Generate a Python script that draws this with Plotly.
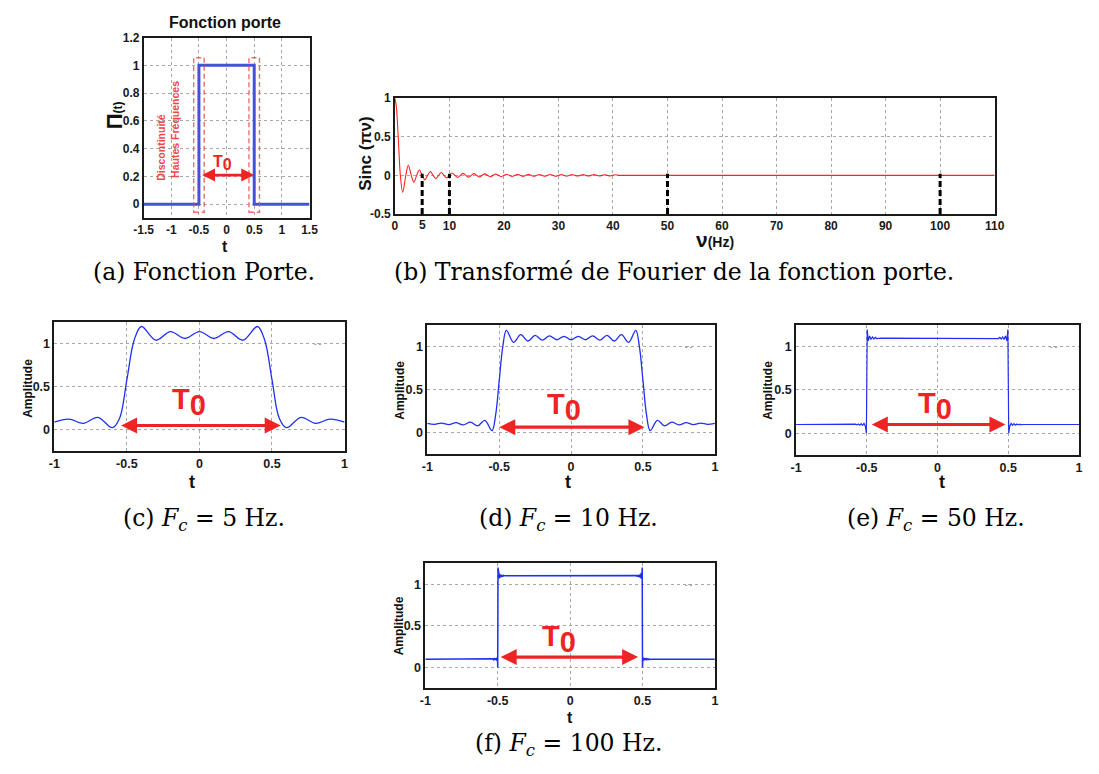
import plotly.graph_objects as go

# ---------------- data ----------------
# (a) gate function
porte_t = [-1.5, -0.5, -0.5, 0.5, 0.5, 1.5]
porte_v = [0, 0, 1, 1, 0, 0]
discontinuities = [-0.5, 0.5]

# (b) sinc(pi nu): zeros and extrema
sinc_nu = [0, 0.25, 0.5, 0.75, 1, 1.43, 2, 2.46, 3, 3.47, 4, 4.49, 5, 5.5, 6, 6.5,
           7, 7.5, 8, 8.5, 9, 9.5, 10, 10.5, 11, 11.5, 12, 12.5, 13, 13.5, 14, 14.5,
           15, 15.5, 16, 16.5, 17, 17.5, 18, 18.5, 19, 19.5, 20, 20.5, 21, 21.5,
           22, 22.5, 23, 23.5, 24, 24.5, 25, 25.5, 26, 26.5, 27, 27.5, 28, 28.5,
           29, 29.5, 30, 30.5, 31, 31.5, 32, 32.5, 33, 33.5, 34, 34.5, 35, 35.5,
           36, 36.5, 37, 37.5, 38, 38.5, 39, 39.5, 40, 40.5, 41, 42, 110]
sinc_val = [1, 0.9, 0.64, 0.3, 0, -0.22, 0, 0.13, 0, -0.09, 0, 0.07, 0, -0.058, 0, 0.049,
            0, -0.042, 0, 0.037, 0, -0.033, 0, 0.03, 0, -0.028, 0, 0.025, 0, -0.023, 0, 0.022,
            0, -0.02, 0, 0.019, 0, -0.018, 0, 0.017, 0, -0.016, 0, 0.015, 0, -0.015,
            0, 0.014, 0, -0.013, 0, 0.013, 0, -0.012, 0, 0.012, 0, -0.011, 0, 0.011,
            0, -0.011, 0, 0.01, 0, -0.01, 0, 0.01, 0, -0.009, 0, 0.009, 0, -0.009,
            0, 0.009, 0, -0.008, 0, 0.008, 0, -0.008, 0, 0.008, 0, 0, 0]
cut_freqs = [5, 10, 50, 100]

# (c) Fc = 5 Hz
t_c = [-1.0, -0.9, -0.8, -0.7, -0.6, -0.55, -0.5, -0.45, -0.4, -0.3, -0.2, -0.1, 0.0,
       0.1, 0.2, 0.3, 0.4, 0.45, 0.5, 0.55, 0.6, 0.7, 0.8, 0.9, 1.0]
a_c = [0.085, 0.12, 0.07, 0.14, 0.02, 0.13, 0.58, 1.04, 1.2, 1.04, 1.14, 1.06, 1.14,
       1.06, 1.14, 1.04, 1.2, 1.04, 0.58, 0.13, 0.02, 0.14, 0.07, 0.12, 0.085]

# (d) Fc = 10 Hz
t_d = [-1.0, -0.95, -0.9, -0.85, -0.8, -0.75, -0.7, -0.65, -0.6, -0.55, -0.525, -0.5,
       -0.475, -0.45, -0.4, -0.35, -0.3, -0.25, -0.2, -0.15, -0.1, -0.05, 0.0,
       0.05, 0.1, 0.15, 0.2, 0.25, 0.3, 0.35, 0.4, 0.45, 0.475, 0.5, 0.525, 0.55,
       0.6, 0.65, 0.7, 0.75, 0.8, 0.85, 0.9, 0.95, 1.0]
a_d = [0.105, 0.093, 0.108, 0.09, 0.112, 0.087, 0.118, 0.075, 0.14, 0.02, 0.2, 0.6,
       1.0, 1.19, 1.05, 1.14, 1.065, 1.13, 1.075, 1.125, 1.08, 1.12, 1.08,
       1.12, 1.08, 1.125, 1.075, 1.13, 1.065, 1.14, 1.05, 1.19, 1.0, 0.6, 0.2, 0.02,
       0.14, 0.075, 0.118, 0.087, 0.112, 0.09, 0.108, 0.093, 0.105]

# (e) Fc = 50 Hz
t_e = [-1, -0.6, -0.59, -0.58, -0.57, -0.56, -0.55, -0.54, -0.53, -0.52, -0.51, -0.503,
       -0.497, -0.49, -0.48, -0.47, -0.46, -0.45, -0.44, -0.43, -0.4,
       0.4, 0.43, 0.44, 0.45, 0.46, 0.47, 0.48, 0.49, 0.497,
       0.503, 0.51, 0.52, 0.53, 0.54, 0.55, 0.56, 0.57, 0.58, 0.59, 0.6, 1]
a_e = [0.1, 0.1, 0.097, 0.104, 0.095, 0.106, 0.093, 0.109, 0.09, 0.113, 0.08, 0.0,
       1.2, 1.07, 1.125, 1.085, 1.115, 1.09, 1.108, 1.095, 1.1,
       1.1, 1.095, 1.108, 1.09, 1.115, 1.085, 1.125, 1.07, 1.2,
       0.0, 0.08, 0.113, 0.09, 0.109, 0.093, 0.106, 0.095, 0.104, 0.097, 0.1, 0.1]

# (f) Fc = 100 Hz
t_f = [-1, -0.56, -0.55, -0.545, -0.54, -0.535, -0.53, -0.525, -0.52, -0.515, -0.51,
       -0.507, -0.504, -0.502, -0.5, -0.498, -0.496, -0.493, -0.49, -0.487, -0.484,
       -0.48, -0.475, -0.47, -0.465, -0.46, -0.45,
       0.45, 0.46, 0.465, 0.47, 0.475, 0.48, 0.484, 0.487, 0.49, 0.493, 0.496, 0.498,
       0.5, 0.502, 0.504, 0.507, 0.51, 0.515, 0.52, 0.525, 0.53, 0.535, 0.54, 0.545,
       0.55, 0.56, 1]
a_f = [0.1, 0.1, 0.097, 0.103, 0.096, 0.105, 0.094, 0.107, 0.092, 0.11, 0.088,
       0.115, 0.08, 0.13, 0.0, 1.2, 1.06, 1.14, 1.07, 1.125, 1.08,
       1.115, 1.087, 1.11, 1.092, 1.106, 1.1,
       1.1, 1.106, 1.092, 1.11, 1.087, 1.115, 1.08, 1.125, 1.07, 1.14, 1.06, 1.2,
       0.0, 0.13, 0.08, 0.115, 0.088, 0.11, 0.092, 0.107, 0.094, 0.105, 0.096, 0.103,
       0.097, 0.1, 0.1]

# T0 arrow extents (start, end, height) per panel
arrows = {1: (-0.47, 0.5, 0.21), 3: (-0.55, 0.56, 0.045), 4: (-0.51, 0.51, 0.06),
          5: (-0.475, 0.48, 0.1), 6: (-0.49, 0.47, 0.125)}

captions = ["(a) Fonction Porte.",
            "(b) Transformé de Fourier de la fonction porte.",
            "(c) <i>F<sub>c</sub></i> = 5 Hz.",
            "(d) <i>F<sub>c</sub></i> = 10 Hz.",
            "(e) <i>F<sub>c</sub></i> = 50 Hz.",
            "(f) <i>F<sub>c</sub></i> = 100 Hz."]

# ---------------- layout helpers ----------------
# The page keeps the browser's default 8 px body margin, so the figure is
# 16 px smaller than the window and positions are given in window pixels.
OFF = 8
W, H = 1099 - 2 * OFF, 774 - 2 * OFF
def PX(x): return (x - OFF) / W
def PY(y): return 1 - (y - OFF) / H

SANS = "Liberation Sans"
RED = "#ee2424"
BLUE = "#2030f0"

domains = {
    1: ((136, 305), (31, 215)),
    2: ((392, 1003), (92.7, 210.7)),
    3: ((45, 340.7), (321, 452)),
    4: ((425, 718), (324, 455)),
    5: ((800.7, 1089), (324, 456)),
    6: ((423, 718), (566.7, 694)),
}

fig = go.Figure()

def axes(i, xr, yr, xt, yt, fsize):
    (x0, x1), (y0, y1) = domains[i]
    common = dict(showline=True, mirror=True, linecolor="#1a1a1a", linewidth=1.6,
                  showgrid=True, gridcolor="#a8a8a8", griddash="dot", gridwidth=1,
                  zeroline=False, ticks="", fixedrange=True,
                  tickfont=dict(family=SANS, size=fsize, color="#1a1a1a", weight="bold"))
    sx = "" if i == 1 else str(i)
    fig.update_layout(**{
        "xaxis" + sx: dict(common, domain=[PX(x0), PX(x1)], range=xr, anchor="y" + sx,
                           tickvals=[v for v, _ in xt], ticktext=[s for _, s in xt]),
        "yaxis" + sx: dict(common, domain=[PY(y1), PY(y0)], range=yr, anchor="x" + sx,
                           tickvals=[v for v, _ in yt], ticktext=[s for _, s in yt]),
    })

def lab(v):
    return "%g" % v

axes(1, [-1.5, 1.5], [-0.1, 1.2],
     [(v, lab(v)) for v in [-1.5, -1, -0.5, 0, 0.5, 1, 1.5]],
     [(v, lab(v)) for v in [0, 0.2, 0.4, 0.6, 0.8, 1, 1.2]], 12)
axes(2, [0, 110], [-0.5, 1],
     [(v, lab(v)) for v in [0, 10, 20, 30, 40, 50, 60, 70, 80, 90, 100, 110]],
     [(v, lab(v)) for v in [-0.5, 0, 0.5, 1]], 12)
for i in [3, 4, 5, 6]:
    axes(i, [-1, 1], [-0.25, 1.25],
         [(v, lab(v)) for v in [-1, -0.5, 0, 0.5, 1]],
         [(v, lab(v)) for v in [0, 0.5, 1]], 12.5)

# ---------------- traces ----------------
fig.add_trace(go.Scatter(x=porte_t, y=porte_v, mode="lines", xaxis="x", yaxis="y",
                         line=dict(color="#4352d6", width=3)))

fig.add_trace(go.Scatter(x=sinc_nu, y=sinc_val, mode="lines", xaxis="x2", yaxis="y2",
                         line=dict(color="#ff2222", width=1.1, shape="spline", smoothing=1)))
cx, cy = [], []
for f in cut_freqs:
    cx += [f, f, None]
    cy += [-0.5, 0.02, None]
fig.add_trace(go.Scatter(x=cx, y=cy, mode="lines", xaxis="x2", yaxis="y2",
                         line=dict(color="black", width=3, dash="6px,3px")))

for i, (tt, aa, shape, w) in zip([3, 4, 5, 6],
                                 [(t_c, a_c, "spline", 1.3), (t_d, a_d, "spline", 1.3),
                                  (t_e, a_e, "linear", 1.2), (t_f, a_f, "linear", 1.5)]):
    fig.add_trace(go.Scatter(x=tt, y=aa, mode="lines", xaxis="x%d" % i, yaxis="y%d" % i,
                             line=dict(color=BLUE, width=w, shape=shape)))

# ---------------- shapes (a) ----------------
for d in discontinuities:
    fig.add_shape(type="rect", xref="x", yref="y", x0=d - 0.095, x1=d + 0.095,
                  y0=-0.057, y1=1.055,
                  line=dict(color="rgba(240,70,70,0.8)", width=1.4, dash="5px,3px"))

ann = []
def text(x, y, s, size, color="#111", angle=0, family=SANS, xanchor="center", yanchor="middle"):
    ann.append(dict(x=PX(x), y=PY(y), xref="paper", yref="paper", text=s, showarrow=False,
                    font=dict(family=family, size=size, color=color), textangle=angle,
                    xanchor=xanchor, yanchor=yanchor))

# arrows
for i, (s, e, h) in arrows.items():
    sx = "" if i == 1 else str(i)
    ann.append(dict(x=e, y=h, ax=s, ay=h, xref="x" + sx, yref="y" + sx, axref="x" + sx,
                    ayref="y" + sx, text="", showarrow=True, arrowhead=2, startarrowhead=2,
                    arrowside="end+start", arrowwidth=2.6 if i == 1 else 3.2,
                    arrowsize=1, startarrowsize=1, arrowcolor=RED))

# T0 labels (data coordinates of the centre of "T0")
t0pos = {1: (-0.08, 0.30, 16), 3: (-0.07, 0.32, 29), 4: (-0.05, 0.30, 29),
         5: (-0.02, 0.31, 29), 6: (-0.08, 0.345, 29)}
for i, (tx, ty, sz) in t0pos.items():
    sx = "" if i == 1 else str(i)
    ann.append(dict(x=tx, y=ty, xref="x" + sx, yref="y" + sx,
                    text="<b>T<sub><span style='font-size:%dpx'>0</span></sub></b>" % sz,
                    showarrow=False, font=dict(family=SANS, size=sz, color=RED)))

# tiny legend remnant at the top right of panels (c)-(f)
for i in [3, 4, 5, 6]:
    ann.append(dict(x=0.82, y=1.0, xref="x%d" % i, yref="y%d" % i, text="-·-",
                    showarrow=False, font=dict(family=SANS, size=7, color="#444")))

# panel (a) texts
text(219, 16, "<b>Fonction porte</b>", 16)
text(219, 244, "<b>t</b>", 16)
text(106, 110, "<b>Π</b><b><span style='font-size:12px'>(t)</span></b>", 22, angle=-90)
text(153, 143, "<b>Discontinuité</b>", 10.5, color="#f04848", angle=-90)
text(168, 125, "<b>Hautes Fréquences</b>", 10.5, color="#f04848", angle=-90)

# panel (b) texts
text(362, 149, "<b>Sinc (πν)</b>", 17, angle=-90)
text(718, 237, "<b><span style='font-size:21px'>ν</span>(Hz)</b>", 14)
ann.append(dict(x=5, y=PY(222), xref="x2", yref="paper", text="<b>5</b>", showarrow=False,
                yanchor="middle", font=dict(family=SANS, size=12, color="#1a1a1a")))

# panels (c)-(f) axis titles
for (ax_x, ax_y) in [(18, 388), (397, 390), (772, 390), (396, 630)]:
    text(ax_x, ax_y, "<b>Amplitude</b>", 12, angle=-90)
for (tx, ty, ts) in [(185, 484, 18), (568, 484, 18), (949, 484, 18), (570, 724, 16)]:
    text(tx, ty, "<b>t</b>", ts)

# captions (those with a subscript are shifted to keep the baseline;
# the last one is kept inside the page)
SERIF = "DejaVu Serif"
for s, (cx_, cy_) in zip(captions, [(197, 270), (676, 270), (197, 522), (569, 522),
                                    (943, 522), (569, 751)]):
    text(cx_, cy_, s, 23.5, color="#000", family=SERIF)

fig.update_layout(annotations=ann, width=W, height=H, margin=dict(l=0, r=0, t=0, b=0),
                  paper_bgcolor="white", plot_bgcolor="white", showlegend=False)

fig.write_html("out.html", config={"displayModeBar": False})
